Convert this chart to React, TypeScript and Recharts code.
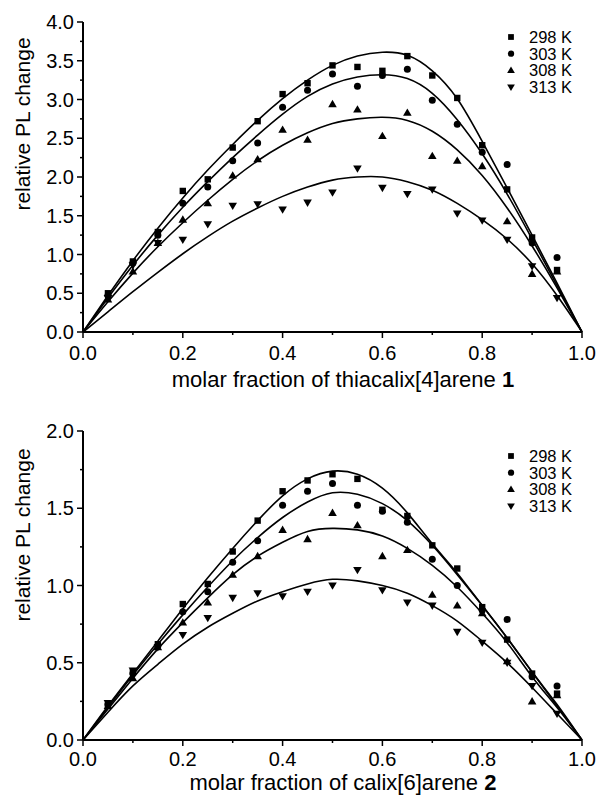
import { ComposedChart, Line, Scatter, XAxis, YAxis, Legend, Label } from "recharts";

const FONT = '"Liberation Sans", Arial, Helvetica, sans-serif';

const temps = ["298 K", "303 K", "308 K", "313 K"];
const kinds = ["square", "circle", "up", "down"];

// measured molar fractions
const fractions = [0.05, 0.1, 0.15, 0.2, 0.25, 0.3, 0.35, 0.4, 0.45, 0.5, 0.55, 0.6, 0.65, 0.7, 0.75, 0.8, 0.85, 0.9, 0.95];
// fractions where the fit curves are sampled
const fitFractions = [0, 0.05, 0.1, 0.15, 0.2, 0.25, 0.3, 0.35, 0.4, 0.45, 0.5, 0.55, 0.6, 0.65, 0.7, 0.75, 0.8, 0.85, 0.9, 0.95, 1];

// thiacalix[4]arene 1
const top298 = [0.5, 0.91, 1.29, 1.82, 1.97, 2.38, 2.72, 3.07, 3.21, 3.44, 3.42, 3.37, 3.56, 3.31, 3.02, 2.41, 1.84, 1.22, 0.8];
const top303 = [0.47, 0.89, 1.25, 1.66, 1.87, 2.21, 2.44, 2.9, 3.12, 3.33, 3.17, 3.31, 3.39, 2.99, 2.68, 2.32, 2.16, 1.15, 0.96];
const top308 = [0.42, 0.78, 1.15, 1.45, 1.66, 2.02, 2.23, 2.61, 2.48, 2.94, 2.87, 2.53, 2.83, 2.27, 2.21, 2.14, 1.43, 0.75, 0.78];
const top313 = [0.44, 0.86, 1.15, 1.19, 1.39, 1.63, 1.65, 1.58, 1.67, 1.8, 2.11, 1.86, 1.78, 1.84, 1.53, 1.44, 1.19, 0.85, 0.44];

const topFit298 = [0, 0.47, 0.92, 1.34, 1.73, 2.09, 2.42, 2.73, 3.01, 3.25, 3.44, 3.56, 3.61, 3.57, 3.37, 3.01, 2.46, 1.86, 1.25, 0.63, 0];
const topFit303 = [0, 0.44, 0.86, 1.25, 1.61, 1.94, 2.25, 2.54, 2.81, 3.04, 3.2, 3.29, 3.32, 3.27, 3.08, 2.74, 2.3, 1.78, 1.2, 0.6, 0];
const topFit308 = [0, 0.39, 0.76, 1.1, 1.41, 1.7, 1.97, 2.21, 2.41, 2.57, 2.69, 2.75, 2.77, 2.73, 2.59, 2.35, 2.02, 1.6, 1.11, 0.57, 0];
const topFit313 = [0, 0.26, 0.52, 0.77, 1.01, 1.23, 1.43, 1.6, 1.75, 1.87, 1.96, 2.0, 2.0, 1.94, 1.83, 1.66, 1.45, 1.2, 0.88, 0.47, 0];

// calix[6]arene 2
const bot298 = [0.23, 0.44, 0.62, 0.88, 1.01, 1.22, 1.42, 1.61, 1.68, 1.72, 1.69, 1.49, 1.45, 1.26, 1.11, 0.86, 0.65, 0.43, 0.3];
const bot303 = [0.23, 0.43, 0.61, 0.83, 0.96, 1.15, 1.29, 1.52, 1.61, 1.66, 1.52, 1.48, 1.41, 1.17, 1.0, 0.84, 0.78, 0.41, 0.35];
const bot308 = [0.22, 0.4, 0.6, 0.76, 0.89, 1.07, 1.19, 1.36, 1.3, 1.47, 1.39, 1.19, 1.23, 0.94, 0.87, 0.82, 0.51, 0.25, 0.29];
const bot313 = [0.24, 0.45, 0.6, 0.68, 0.79, 0.92, 0.95, 0.93, 0.96, 1.0, 1.1, 0.97, 0.89, 0.87, 0.7, 0.63, 0.5, 0.35, 0.17];

const botFit298 = [0, 0.22, 0.43, 0.64, 0.85, 1.05, 1.24, 1.42, 1.58, 1.69, 1.74, 1.72, 1.63, 1.47, 1.27, 1.08, 0.87, 0.66, 0.44, 0.23, 0];
const botFit303 = [0, 0.21, 0.42, 0.62, 0.81, 0.99, 1.16, 1.31, 1.44, 1.54, 1.6, 1.59, 1.53, 1.42, 1.26, 1.07, 0.87, 0.66, 0.44, 0.22, 0];
const botFit308 = [0, 0.2, 0.4, 0.59, 0.76, 0.92, 1.07, 1.19, 1.28, 1.35, 1.37, 1.36, 1.32, 1.24, 1.13, 0.99, 0.82, 0.63, 0.41, 0.21, 0];
const botFit313 = [0, 0.18, 0.35, 0.49, 0.62, 0.73, 0.82, 0.9, 0.96, 1.01, 1.04, 1.03, 1.0, 0.95, 0.87, 0.77, 0.64, 0.5, 0.34, 0.17, 0];

const xTicks = [0, 0.1, 0.2, 0.3, 0.4, 0.5, 0.6, 0.7, 0.8, 0.9, 1];
const yTicksTop = [0, 0.25, 0.5, 0.75, 1, 1.25, 1.5, 1.75, 2, 2.25, 2.5, 2.75, 3, 3.25, 3.5, 3.75, 4];
const yTicksBot = [0, 0.25, 0.5, 0.75, 1, 1.25, 1.5, 1.75, 2];

function Marker({ kind, cx, cy, s = 1 }: { kind: string; cx: number; cy: number; s?: number }) {
  if (kind === "square") return <rect x={cx - 3.2 * s} y={cy - 3.2 * s} width={6.4 * s} height={6.4 * s} fill="#000" />;
  if (kind === "circle") return <circle cx={cx} cy={cy} r={3.5 * s} fill="#000" />;
  if (kind === "up")
    return <polygon points={`${cx},${cy - 4.3 * s} ${cx + 4.3 * s},${cy + 3 * s} ${cx - 4.3 * s},${cy + 3 * s}`} fill="#000" />;
  return <polygon points={`${cx},${cy + 4.3 * s} ${cx + 4.3 * s},${cy - 3 * s} ${cx - 4.3 * s},${cy - 3 * s}`} fill="#000" />;
}

function XTick(p: any) {
  const v = p.payload.value;
  const major = Math.round(v * 10) % 2 === 0;
  return (
    <g>
      <line x1={p.x} x2={p.x} y1={p.y} y2={p.y + (major ? 6 : 3)} stroke="#000" strokeWidth={1.5} />
      {major && (
        <text x={p.x} y={p.y + p.labelDy} textAnchor="middle" fontSize={20} fontFamily={FONT} fill="#000">
          {v.toFixed(1)}
        </text>
      )}
    </g>
  );
}

function YTick(p: any) {
  const v = p.payload.value;
  const major = Math.abs(v * 2 - Math.round(v * 2)) < 1e-6;
  return (
    <g>
      <line x1={p.x} x2={p.x - (major ? 6 : 3)} y1={p.y} y2={p.y} stroke="#000" strokeWidth={1.5} />
      {major && (
        <text x={p.x - 9} y={p.y} dy="0.36em" textAnchor="end" fontSize={20} fontFamily={FONT} fill="#000">
          {v.toFixed(1)}
        </text>
      )}
    </g>
  );
}

function LegendBox() {
  return (
    <svg width={90} height={70}>
      {temps.map((t, i) => (
        <g key={t}>
          <Marker kind={kinds[i]} cx={11} cy={9 + i * 16.7} s={0.9} />
          <text x={29} y={9 + i * 16.7} dy="0.36em" fontSize={16.5} fontFamily={FONT} fill="#000">
            {t}
          </text>
        </g>
      ))}
    </svg>
  );
}

const toPts = (xs: number[], ys: number[]) => xs.map((x, i) => ({ x, y: ys[i] }));

function Panel(props: {
  height: number;
  bottom: number;
  yMax: number;
  yTicks: number[];
  pts: number[][];
  fits: number[][];
  title: string;
  bold: string;
  tickDy: number;
  titleDy: number;
  yTitleY: number;
  legendTop: number;
}) {
  return (
    <ComposedChart width={600} height={props.height} margin={{ top: 22, right: 18, bottom: props.bottom, left: 23 }}>
      <XAxis
        type="number"
        dataKey="x"
        domain={[0, 1]}
        ticks={xTicks}
        interval={0}
        tick={(p: any) => <XTick {...p} labelDy={props.tickDy} />}
        tickLine={false}
        tickSize={0}
        tickMargin={0}
        height={50}
        axisLine={{ stroke: "#000", strokeWidth: 2 }}
      >
        <Label
          content={({ viewBox }: any) => (
            <text x={343} y={viewBox.y + props.titleDy} textAnchor="middle" fontSize={22} fontFamily={FONT} fill="#000">
              {props.title}
              <tspan fontWeight="bold">{props.bold}</tspan>
            </text>
          )}
        />
      </XAxis>
      <YAxis
        type="number"
        domain={[0, props.yMax]}
        ticks={props.yTicks}
        interval={0}
        tick={(p: any) => <YTick {...p} />}
        tickLine={false}
        tickSize={0}
        tickMargin={0}
        width={60}
        axisLine={{ stroke: "#000", strokeWidth: 2 }}
      >
        <Label
          content={() => (
            <text
              x={30}
              y={props.yTitleY}
              transform={`rotate(-90 30 ${props.yTitleY})`}
              textAnchor="middle"
              fontSize={21}
              fontFamily={FONT}
              fill="#000"
            >
              relative PL change
            </text>
          )}
        />
      </YAxis>
      <Legend
        layout="vertical"
        align="center"
        verticalAlign="middle"
        wrapperStyle={{ top: props.legendTop, left: 500, width: 90, height: 70 }}
        content={() => <LegendBox />}
      />
      {props.fits.map((f, i) => (
        <Line
          key={"fit" + i}
          data={toPts(fitFractions, f)}
          dataKey="y"
          type="natural"
          dot={false}
          activeDot={false}
          stroke="#000"
          strokeWidth={1.6}
          isAnimationActive={false}
          legendType="none"
        />
      ))}
      {props.pts.map((d, i) => (
        <Scatter
          key={"pts" + i}
          name={temps[i]}
          data={toPts(fractions, d)}
          dataKey="y"
          isAnimationActive={false}
          shape={(p: any) => <Marker kind={kinds[i]} cx={p.cx} cy={p.cy} />}
        />
      ))}
    </ComposedChart>
  );
}

export default function App() {
  return (
    <div style={{ position: "absolute", left: 0, top: 0, width: 600, height: 805, background: "#fff", fontFamily: FONT }}>
      <Panel
        height={400}
        bottom={18}
        yMax={4}
        yTicks={yTicksTop}
        pts={[top298, top303, top308, top313]}
        fits={[topFit298, topFit303, topFit308, topFit313]}
        title="molar fraction of thiacalix[4]arene "
        bold="1"
        tickDy={28}
        titleDy={55}
        yTitleY={124}
        legendTop={28}
      />
      <div style={{ position: "absolute", left: 0, top: 409 }}>
        <Panel
          height={396}
          bottom={15}
          yMax={2}
          yTicks={yTicksBot}
          pts={[bot298, bot303, bot308, bot313]}
          fits={[botFit298, botFit303, botFit308, botFit313]}
          title="molar fraction of calix[6]arene "
          bold="2"
          tickDy={26}
          titleDy={50}
          yTitleY={126}
          legendTop={38}
        />
      </div>
    </div>
  );
}
